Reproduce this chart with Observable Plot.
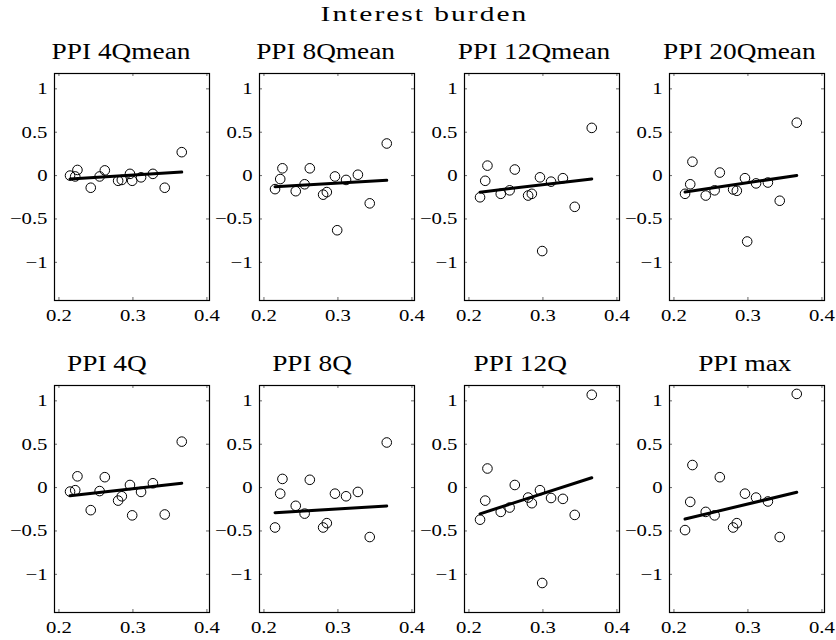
<!DOCTYPE html>
<html>
<head>
<meta charset="utf-8">
<script src="https://cdn.jsdelivr.net/npm/d3@7"></script>
<script src="https://cdn.jsdelivr.net/npm/@observablehq/plot@0.6"></script>
<style>
  body { margin: 0; background: #fff; }
  #chart { position: relative; width: 836px; height: 640px; overflow: hidden; background: #fff; }
  #chart svg { position: absolute; }
</style>
</head>
<body>
<div id="chart"></div>
<script>
// ---------- data ----------
const mainTitle = "Interest burden";
const panelTitles = ["PPI 4Qmean", "PPI 8Qmean", "PPI 12Qmean", "PPI 20Qmean",
                     "PPI 4Q", "PPI 8Q", "PPI 12Q", "PPI max"];

// x: interest burden (same for every panel)
const interestBurden = [0.215, 0.222, 0.225, 0.243, 0.255, 0.262, 0.280, 0.285, 0.296, 0.299, 0.311, 0.327, 0.343, 0.366];

const ppi4Qmean  = [0.00, -0.01, 0.065, -0.14, -0.01, 0.06, -0.06, -0.05, 0.02, -0.06, -0.02, 0.02, -0.14, 0.27];
const ppi8Qmean  = [-0.156, -0.04, 0.084, -0.18, -0.10, 0.084, -0.22, -0.19, -0.01, -0.63, -0.05, 0.01, -0.32, 0.37];
const ppi12Qmean = [-0.25, -0.06, 0.115, -0.21, -0.17, 0.07, -0.23, -0.21, -0.02, -0.87, -0.07, -0.03, -0.36, 0.55];
const ppi20Qmean = [-0.21, -0.10, 0.16, -0.23, -0.17, 0.035, -0.16, -0.175, -0.03, -0.76, -0.09, -0.08, -0.29, 0.61];
const ppi4Q      = [-0.046, -0.03, 0.13, -0.26, -0.04, 0.12, -0.15, -0.10, 0.03, -0.32, -0.05, 0.05, -0.31, 0.53];
const ppi8Q      = [-0.46, -0.07, 0.10, -0.21, -0.30, 0.09, -0.46, -0.41, -0.07, -1.59, -0.10, -0.05, -0.57, 0.52];
const ppi12Q     = [-0.37, -0.15, 0.22, -0.28, -0.23, 0.03, -0.115, -0.18, -0.03, -1.10, -0.12, -0.13, -0.315, 1.07];
const ppiMax     = [-0.49, -0.165, 0.26, -0.28, -0.32, 0.12, -0.46, -0.41, -0.07, -1.62, -0.115, -0.16, -0.57, 1.08];

const panelSeries = [ppi4Qmean, ppi8Qmean, ppi12Qmean, ppi20Qmean, ppi4Q, ppi8Q, ppi12Q, ppiMax];

const xTicks = [0.2, 0.3, 0.4];
const xTickLabels = ["0.2", "0.3", "0.4"];
const yTicks = [-1, -0.5, 0, 0.5, 1];
const yTickLabels = ["\u22121", "\u22120.5", "0", "0.5", "1"];

// ---------- layout ----------
const frameLeft = [54, 259, 464, 669];
const frameTop = [73, 385];
const frameW = 155, frameH = 227;
const mL = 50, mR = 22, mT = 5, mB = 32;
const titleDx = [-10.5, -10.9, -7.5, -7.2, -24.6, -24.5, -21.3, -1.7];
const serif = "'Liberation Serif', 'Times New Roman', Times, serif";
const labelStretch = 1.22;

const chart = document.getElementById("chart");

// titles layer
const tsvg = d3.select(chart).append("svg")
  .attr("width", 836).attr("height", 640)
  .style("left", "0px").style("top", "0px");

tsvg.append("text")
  .attr("transform", "translate(424.4,20.7) scale(1.34,1)")
  .attr("text-anchor", "middle")
  .attr("font-family", serif)
  .attr("font-size", 22)
  .attr("letter-spacing", "1.5px")
  .attr("fill", "black")
  .text(mainTitle);

panelTitles.forEach((t, i) => {
  const col = i % 4, row = Math.floor(i / 4);
  const cx = frameLeft[col] + frameW / 2 + titleDx[i];
  const by = frameTop[row] - 14;
  tsvg.append("text")
    .attr("transform", `translate(${cx},${by}) scale(1.215,1)`)
    .attr("text-anchor", "middle")
    .attr("font-family", serif)
    .attr("font-size", 22.5)
    .attr("fill", "black")
    .text(t);
});

// panels
panelSeries.forEach((series, i) => {
  const col = i % 4, row = Math.floor(i / 4);
  const rows = interestBurden.map((x, k) => ({x, y: series[k]}));
  const svg = Plot.plot({
    width: mL + frameW + mR,
    height: mT + frameH + mB,
    marginLeft: mL, marginRight: mR, marginTop: mT, marginBottom: mB,
    style: {background: "transparent", fontFamily: serif, fontSize: "17px", color: "black", overflow: "visible"},
    x: {domain: [0.194, 0.4035]},
    y: {domain: [-1.44, 1.177]},
    marks: [
      Plot.tickX(xTicks, {x: d => d, insetTop: frameH - 3, stroke: "#444", strokeWidth: 0.8}),
      Plot.tickX(xTicks, {x: d => d, insetBottom: frameH - 3, stroke: "#444", strokeWidth: 0.8}),
      Plot.tickY(yTicks, {y: d => d, insetRight: frameW - 3, stroke: "#444", strokeWidth: 0.8}),
      Plot.tickY(yTicks, {y: d => d, insetLeft: frameW - 3, stroke: "#444", strokeWidth: 0.8}),
      Plot.frame({stroke: "black", strokeWidth: 1.2}),
      Plot.axisX({ticks: xTicks, tickSize: 0, tickPadding: 8, label: null,
                  fontFamily: serif, fontSize: 17,
                  tickFormat: d => xTickLabels[xTicks.indexOf(d)]}),
      Plot.axisY({ticks: yTicks, tickSize: 0, tickPadding: 7, label: null,
                  fontFamily: serif, fontSize: 17,
                  tickFormat: d => yTickLabels[yTicks.indexOf(d)]}),
      Plot.dot(rows, {x: "x", y: "y", r: 4.8, stroke: "black", strokeWidth: 1, fill: "none", clip: true}),
      Plot.linearRegressionY(rows, {x: "x", y: "y", ci: 0, stroke: "black", strokeWidth: 3})
    ]
  });
  svg.style.left = (frameLeft[col] - mL) + "px";
  svg.style.top = (frameTop[row] - mT) + "px";
  // serif tick labels, stretched horizontally like the reference rendering
  svg.querySelectorAll("text").forEach(t => {
    t.style.fontFamily = serif;
    t.style.fontSize = "17px";
    const tr = t.getAttribute("transform");
    if (tr) {
      t.setAttribute("transform", tr + ` scale(${labelStretch},1)`);
    } else {
      const x = +(t.getAttribute("x") || 0);
      t.removeAttribute("x");
      t.setAttribute("transform", `translate(${x},0) scale(${labelStretch},1)`);
    }
  });
  chart.appendChild(svg);
});
</script>
</body>
</html>
